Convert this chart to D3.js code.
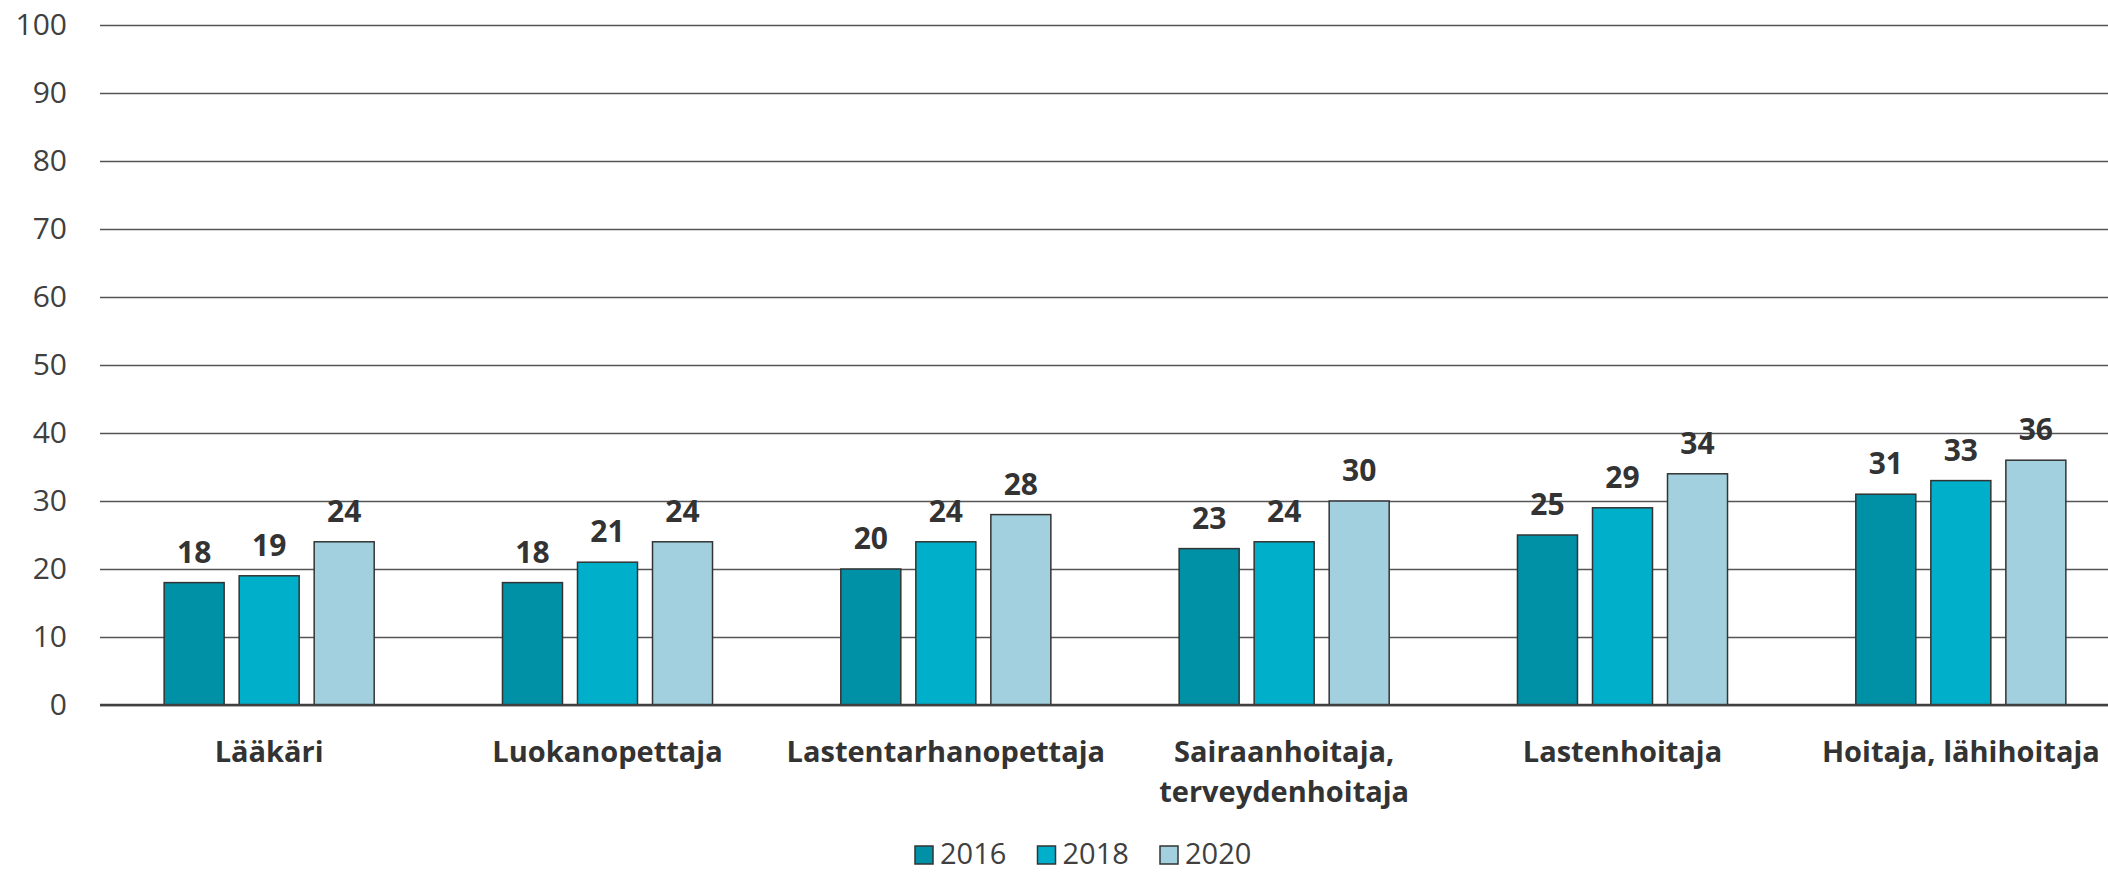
<!DOCTYPE html>
<html>
<head>
<meta charset="utf-8">
<script src="https://cdn.jsdelivr.net/npm/d3@7"></script>
<style>
  body { margin: 0; background: #fff; }
  svg { display: block; font-family: 'Open Sans', sans-serif; }
</style>
</head>
<body>
<div id="chart"></div>
<script>
const categories = ['Lääkäri', 'Luokanopettaja', 'Lastentarhanopettaja', 'Sairaanhoitaja, terveydenhoitaja', 'Lastenhoitaja', 'Hoitaja, lähihoitaja'];
const years = ['2016', '2018', '2020'];
const values2016 = [18, 18, 20, 23, 25, 31];
const values2018 = [19, 21, 24, 24, 29, 33];
const values2020 = [24, 24, 28, 30, 34, 36];
const yTicks = [0, 10, 20, 30, 40, 50, 60, 70, 80, 90, 100];
const colors = ['#0091a7', '#00afca', '#a3d0de'];

const width = 2108;
const height = 872;
const series = [values2016, values2018, values2020];

const svg = d3.create('svg')
  .attr('width', width)
  .attr('height', height);

d3.select('#chart').append(() => svg.node());

const x0 = d3.scaleBand()
  .domain(categories)
  .range([100, 2130])
  .padding(0);

const x1 = d3.scaleBand()
  .domain(years)
  .range([0, x0.bandwidth()])
  .paddingInner(0.2)
  .paddingOuter(0.855);

const y = d3.scaleLinear()
  .domain([0, 100])
  .range([705, 25]);

const color = d3.scaleOrdinal().domain(years).range(colors);

// gridlines + y labels
const yAxis = svg.append('g')
  .attr('transform', 'translate(100,0)')
  .call(d3.axisLeft(y).tickValues(yTicks).tickSize(-2030).tickPadding(33));
yAxis.select('.domain').remove();
yAxis.selectAll('.tick line')
  .attr('stroke', '#555')
  .attr('stroke-width', 1.4);
yAxis.selectAll('.tick text')
  .attr('fill', '#404040')
  .style('font-size', '30px')
  .style('font-family', "'Open Sans', sans-serif");

const table = categories.map((c, i) => ({
  category: c,
  values: years.map((yr, j) => ({ year: yr, value: series[j][i] }))
}));

const groups = svg.append('g')
  .selectAll('g')
  .data(table)
  .join('g')
  .attr('transform', d => `translate(${x0(d.category)},0)`);

groups.selectAll('rect')
  .data(d => d.values)
  .join('rect')
  .attr('x', d => x1(d.year))
  .attr('y', d => y(d.value))
  .attr('width', x1.bandwidth())
  .attr('height', d => y(0) - y(d.value))
  .attr('fill', d => color(d.year))
  .attr('stroke', '#333')
  .attr('stroke-width', 1.5);

groups.selectAll('text.val')
  .data(d => d.values)
  .join('text')
  .attr('class', 'val')
  .attr('x', d => x1(d.year) + x1.bandwidth() / 2)
  .attr('y', d => y(d.value) - 20)
  .attr('text-anchor', 'middle')
  .attr('fill', '#333')
  .style('font-size', '30px')
  .style('font-weight', 'bold')
  .text(d => d.value);

// baseline
svg.append('line')
  .attr('x1', 100)
  .attr('x2', width)
  .attr('y1', y(0))
  .attr('y2', y(0))
  .attr('stroke', '#404040')
  .attr('stroke-width', 2.5);

// category labels, wrapped
const xAxis = svg.append('g')
  .attr('transform', `translate(0,${y(0)})`)
  .call(d3.axisBottom(x0).tickSize(0).tickPadding(0));
xAxis.select('.domain').remove();
xAxis.selectAll('.tick text')
  .attr('fill', '#333')
  .style('font-size', '29px')
  .style('font-weight', 'bold')
  .style('font-family', "'Open Sans', sans-serif")
  .each(function (d) {
    const t = d3.select(this);
    const words = d.split(' ');
    t.text(null).attr('y', 0).attr('dy', null);
    let line = [];
    let lineNo = 0;
    let tspan = t.append('tspan').attr('x', 0).attr('y', 57);
    words.forEach(w => {
      line.push(w);
      tspan.text(line.join(' '));
      if (tspan.node().getComputedTextLength() > 330 && line.length > 1) {
        line.pop();
        tspan.text(line.join(' '));
        line = [w];
        lineNo++;
        tspan = t.append('tspan').attr('x', 0).attr('y', 57 + lineNo * 40).text(w);
      }
    });
  });

// legend
const legend = svg.append('g')
  .selectAll('g')
  .data(years)
  .join('g')
  .attr('transform', (d, i) => `translate(${915 + i * 122.5},846)`);

legend.append('rect')
  .attr('width', 18)
  .attr('height', 18)
  .attr('fill', d => color(d))
  .attr('stroke', '#333')
  .attr('stroke-width', 1.5);

legend.append('text')
  .attr('x', 25)
  .attr('y', 18)
  .attr('fill', '#404040')
  .style('font-size', '29px')
  .text(d => d);
</script>
</body>
</html>
